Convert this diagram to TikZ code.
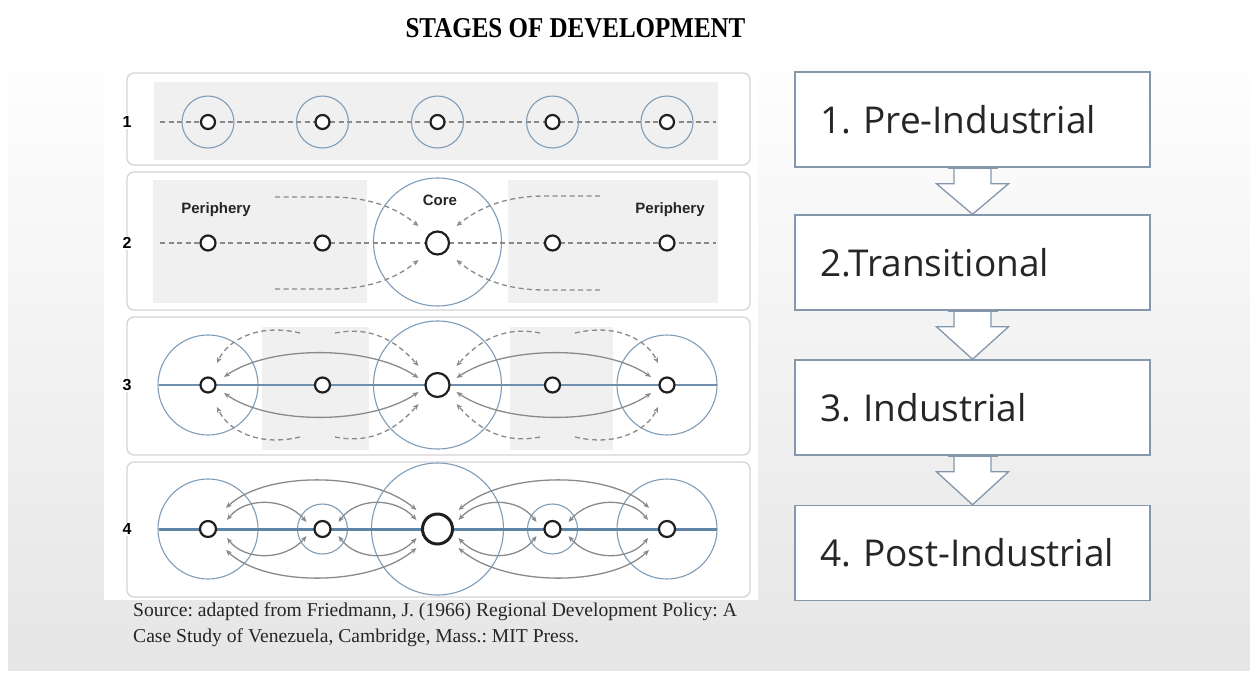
\documentclass[tikz,border=0pt]{standalone}
\usepackage{fontspec}
\usepackage{graphicx}
\setmainfont{Liberation Serif}
\newfontfamily\boxfont{Open Sans}
\newfontfamily\lblfont{Liberation Sans}
\usetikzlibrary{arrows.meta}
\definecolor{bluec}{HTML}{7F9DB8}
\definecolor{blueline}{HTML}{6F8FAE}
\definecolor{bluethick}{HTML}{5F84A6}
\definecolor{dgray}{HTML}{8A8A8A}
\definecolor{panelgray}{HTML}{F0F0F0}
\definecolor{pborder}{HTML}{D4D4D4}
\definecolor{boxborder}{HTML}{8497AD}
\frenchspacing
\begin{document}
\begin{tikzpicture}[x=1pt,y=-1pt,
  town/.style={circle,draw=black!88,line width=2.2pt,fill=white,inner sep=0pt,minimum size=#1},
  ring/.style={circle,draw=bluec,line width=1.1pt,inner sep=0pt,minimum size=#1},
  panel/.style={draw=pborder,line width=1.3pt,rounded corners=7pt,fill=white},
  zone/.style={fill=panelgray},
  dline/.style={draw=dgray,line width=1.3pt,dash pattern=on 5pt off 3.5pt},
  darr/.style={dline,-{Stealth[length=6pt,width=5pt]}},
  sarr/.style={draw=dgray,line width=1.3pt,{Stealth[length=6pt,width=5pt]}-{Stealth[length=6pt,width=5pt]}},
  lbl/.style={font=\lblfont\bfseries\fontsize{15}{15}\selectfont,text=black!85},
  num/.style={font=\lblfont\bfseries\fontsize{16}{16}\selectfont,fill=white,inner sep=1pt},
  stage/.style={draw=boxborder,line width=1.5pt,fill=white,minimum width=355pt,minimum height=95pt,text width=305pt,inner xsep=25pt,align=left,font=\boxfont\fontsize{37}{37}\selectfont,text=black!85},
  blockarr/.style={draw=boxborder,line width=1.3pt,fill=white,line join=miter},
  srcline/.style={anchor=west,font=\fontsize{19.6}{19.6}\selectfont,text=black!85,inner sep=0pt}
]
\useasboundingbox (0,0) rectangle (1250,675);
% background
\fill[white] (0,0) rectangle (1250,675);
\shade[top color=white, middle color=black!3, bottom color=black!10] (8,37) rectangle (1250,670);
\fill[white] (104,68) rectangle (758,600);

% title
\node[font=\bfseries\fontsize{25}{25}\selectfont] (title) at (575.5,28) {\scalebox{1}[1.15]{STAGES OF DEVELOPMENT}};

% panels
\draw[panel] (127,73) rectangle (750,165);
\draw[panel] (127,172) rectangle (750,310);
\draw[panel] (127,317) rectangle (750,455);
\draw[panel] (127,462) rectangle (750,597);

% zones
\fill[zone] (154,82) rectangle (718,160);
\fill[zone] (153,180) rectangle (367,303);
\fill[zone] (508,180) rectangle (718,303);
\fill[zone] (262,327) rectangle (369,450);
\fill[zone] (510,327) rectangle (613,450);

% ---------- row 1
\coordinate (a1) at (160,122);
\coordinate (b1) at (716,122);
\draw[dline] (a1) -- (b1);
\foreach \i/\x in {1/208,2/322.5,3/437.5,4/552.5,5/667}{
  \node[ring=52pt] (R1\i) at (\x,122) {};
  \node[town=14pt] (T1\i) at (\x,122) {};
}
\node[num] (n1) at (127,122) {1};

% ---------- row 2
\node[ring=128pt,fill=white] (R23) at (437.5,242) {};
\coordinate (a2) at (160,243);
\coordinate (b2) at (716,243);
\draw[dline] (a2) -- (b2);
\foreach \i/\x/\sz in {1/208/15pt,2/322.5/15pt,3/437.5/23pt,4/552.5/15pt,5/667/15pt}{
  \node[town=\sz] (T2\i) at (\x,243) {};
}
\foreach \s/\k in {-1/u,1/l}{
  \coordinate (s2L\k) at (275,{243+46*\s});
  \coordinate (s2R\k) at (600,{243+47*\s});
  \draw[darr] (s2L\k) -- ++(55,0) .. controls +(40,0) and +(-22,{18*\s}) .. ([shift={(-19,{17*\s})}]T23.center);
  \draw[darr] (s2R\k) -- ++(-55,0) .. controls +(-40,0) and +(22,{18*\s}) .. ([shift={(19,{17*\s})}]T23.center);
}
\node[lbl] (p1) at (216,210) {Periphery};
\node[lbl] (p2) at (670,210) {Periphery};
\node[lbl] (core) at (440,200) {Core};
\node[num] (n2) at (127,243) {2};

% ---------- row 3
\node[ring=100pt] (R31) at (208,385) {};
\node[ring=128pt] (R33) at (437.5,385) {};
\node[ring=100pt] (R35) at (667,385) {};
\coordinate (a3) at (159,385);
\coordinate (b3) at (717,385);
\draw[blueline,line width=1.2pt] (a3) -- (b3);
\foreach \s/\k in {-1/u,1/l}{
  \coordinate (d3a\k) at (300,{385+52*\s});
  \coordinate (d3b\k) at (335,{385+52*\s});
  \coordinate (d3c\k) at (540,{385+52*\s});
  \coordinate (d3d\k) at (575,{385+52*\s});
}
\foreach \i/\x/\sz in {1/208/15pt,2/322.5/15pt,3/437.5/24pt,4/552.5/15pt,5/667/15pt}{
  \node[town=\sz] (T3\i) at (\x,385) {};
}
\foreach \s/\k in {-1/u,1/l}{
  \draw[sarr] ([shift={(16,{8*\s})}]T31.center) .. controls (270,{385+40*\s}) and (370,{385+40*\s}) .. ([shift={(-19,{7*\s})}]T33.center);
  \draw[sarr] ([shift={(19,{7*\s})}]T33.center) .. controls (505,{385+40*\s}) and (605,{385+40*\s}) .. ([shift={(-16,{8*\s})}]T35.center);
  \draw[darr] (d3a\k) .. controls (258,{385+62*\s}) and (228,{385+45*\s}) .. ([shift={(9,{22*\s})}]T31.center);
  \draw[darr] (d3b\k) .. controls (375,{385+60*\s}) and (400,{385+40*\s}) .. ([shift={(-19,{19*\s})}]T33.center);
  \draw[darr] (d3c\k) .. controls (500,{385+60*\s}) and (475,{385+40*\s}) .. ([shift={(19,{19*\s})}]T33.center);
  \draw[darr] (d3d\k) .. controls (617,{385+62*\s}) and (647,{385+45*\s}) .. ([shift={(-9,{22*\s})}]T35.center);
}
\node[num] (n3) at (127,385) {3};

% ---------- row 4
\node[ring=100pt] (R41) at (208,529) {};
\node[ring=50pt] (R42) at (322.5,529) {};
\node[ring=132pt] (R43) at (437.5,529) {};
\node[ring=50pt] (R44) at (552.5,529) {};
\node[ring=100pt] (R45) at (667,529) {};
\coordinate (a4) at (159,529);
\coordinate (b4) at (717,529);
\draw[bluethick,line width=3pt] (a4) -- (b4);
\foreach \i/\x/\sz in {1/208/16pt,2/322.5/16pt,4/552.5/16pt,5/667/16pt}{
  \node[town=\sz] (T4\i) at (\x,529) {};
}
\node[town=30pt,line width=3pt] (T43) at (437.5,529) {};
\foreach \s in {-1,1}{
  \draw[sarr] ([shift={(18,{21*\s})}]T41.center) .. controls (265,{529+58*\s}) and (370,{529+58*\s}) .. ([shift={(-21,{19*\s})}]T43.center);
  \draw[sarr] ([shift={(19,{9*\s})}]T41.center) .. controls (245,{529+32*\s}) and (285,{529+32*\s}) .. ([shift={(-16,{7*\s})}]T42.center);
  \draw[sarr] ([shift={(16,{7*\s})}]T42.center) .. controls (357,{529+32*\s}) and (395,{529+32*\s}) .. ([shift={(-21,{9*\s})}]T43.center);
  \draw[sarr] ([shift={(21,{19*\s})}]T43.center) .. controls (505,{529+58*\s}) and (610,{529+58*\s}) .. ([shift={(-18,{21*\s})}]T45.center);
  \draw[sarr] ([shift={(21,{9*\s})}]T43.center) .. controls (480,{529+32*\s}) and (518,{529+32*\s}) .. ([shift={(-16,{7*\s})}]T44.center);
  \draw[sarr] ([shift={(16,{7*\s})}]T44.center) .. controls (590,{529+32*\s}) and (630,{529+32*\s}) .. ([shift={(-19,{9*\s})}]T45.center);
}
\node[num] (n4) at (127,529) {4};

% source
\node[srcline] (src1) at (133,612) {Source: adapted from Friedmann, J. (1966) Regional Development Policy: A};
\node[srcline] (src2) at (133,638) {Case Study of Venezuela, Cambridge, Mass.: MIT Press.};

% ---------- stages flow
\coordinate (s1c) at (972.5,119.5);
\coordinate (s2c) at (972.5,262.5);
\coordinate (s3c) at (972.5,407.5);
\coordinate (s4c) at (972.5,553);
\node[stage] (s1) at (s1c) {1. Pre-Industrial};
\node[stage] (s2) at (s2c) {2.Transitional};
\node[stage] (s3) at (s3c) {3. Industrial};
\node[stage] (s4) at (s4c) {4. Post-Industrial};
\foreach \a/\b in {s1/s2,s2/s3,s3/s4}{
  \draw[blockarr] ([xshift=-18.5pt]\a.south) -- ([shift={(-18.5,16)}]\a.south) -- ([shift={(-36,16)}]\a.south) -- (\b.north) -- ([shift={(36,16)}]\a.south) -- ([shift={(18.5,16)}]\a.south) -- ([xshift=18.5pt]\a.south);
}
\foreach \a in {s1,s2,s3}{
  \draw[boxborder,line width=1.5pt] ([xshift=-25pt]\a.south) -- ([xshift=25pt]\a.south);
}
\end{tikzpicture}
\end{document}
